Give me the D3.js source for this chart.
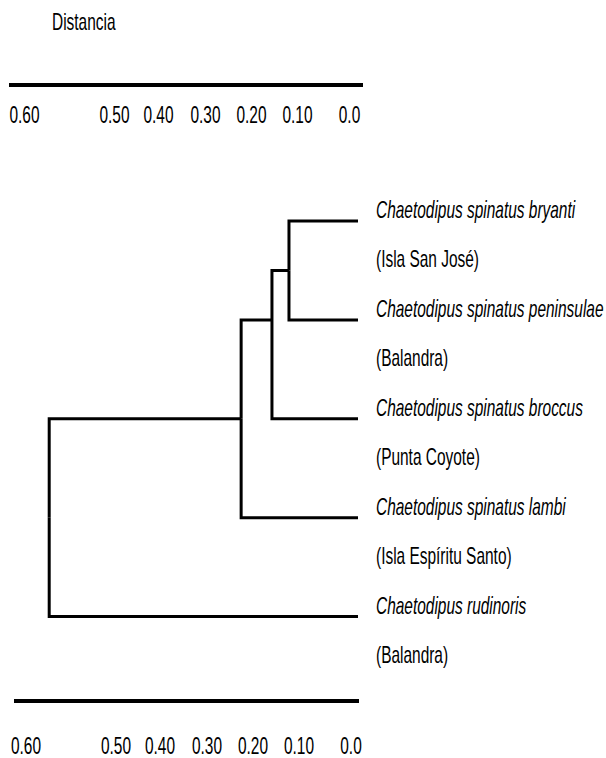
<!DOCTYPE html>
<html><head><meta charset="utf-8">
<script src="https://cdn.jsdelivr.net/npm/d3@7"></script>
<style>body{margin:0;background:#fff}</style>
</head><body><svg id="c" width="606" height="758"></svg>
<script>
const speciesNames = [
  "Chaetodipus spinatus bryanti",
  "Chaetodipus spinatus peninsulae",
  "Chaetodipus spinatus broccus",
  "Chaetodipus spinatus lambi",
  "Chaetodipus rudinoris"
];
const localities = [
  "(Isla San José)",
  "(Balandra)",
  "(Punta Coyote)",
  "(Isla Espíritu Santo)",
  "(Balandra)"
];
// successive merges: merge k joins the cluster so far with leaf k+1
const mergeHeights = [0.137, 0.174, 0.241, 0.582];
const mergeJoin = ["mid", "leaves", "mid", "mid"];
const tickValues = [0.60, 0.50, 0.40, 0.30, 0.20, 0.10, 0.0];
const tickLabels = ["0.60", "0.50", "0.40", "0.30", "0.20", "0.10", "0.0"];
const axisTitle = "Distancia";

const svg = d3.select("#c");
const FONT = "'Liberation Sans', Arial, sans-serif";
const FS = 23, SX = 0.672;

const x = d3.scaleLinear().domain(tickValues).range([33, 123, 167, 214, 260, 306, 358]);
const row = d3.scaleLinear().domain([0, 9]).range([210, 655]);
const leafY = i => row(2 * i) + 11;

function txt(g, tx, ty, s, opts = {}) {
  const t = g.append("text")
    .attr("transform", `translate(${tx},${ty}) scale(${SX},1)`)
    .attr("font-family", FONT).attr("font-size", FS)
    .attr("fill", "#000")
    .attr("text-anchor", opts.anchor || "start")
    .text(s);
  if (opts.italic) t.attr("font-style", "italic");
  return t;
}

// build hierarchy
let tree = {leaf: true, i: 0, h: 0};
mergeHeights.forEach((h, k) => {
  tree = {h, join: mergeJoin[k], children: [tree, {leaf: true, i: k + 1, h: 0}]};
});
const root = d3.hierarchy(tree);
root.eachAfter(d => {
  if (!d.children) d.yy = leafY(d.data.i);
  else if (d.data.join === "leaves") d.yy = d3.mean(d.leaves(), l => l.yy);
  else d.yy = d3.mean(d.children, c => c.yy);
  d.xx = x(d.data.h);
});

svg.append("g").selectAll("path").data(root.links()).join("path")
  .attr("d", l => `M${l.target.xx},${l.target.yy}H${l.source.xx}V${l.source.yy}`)
  .attr("fill", "none").attr("stroke", "#000").attr("stroke-width", 3)
  .attr("stroke-linecap", "butt").attr("stroke-linejoin", "miter");

// labels
const lg = svg.append("g");
speciesNames.forEach((n, i) => {
  txt(lg, 376, row(2 * i) + 8, n, {italic: true});
  txt(lg, 376, row(2 * i + 1) + 8, localities[i]);
});

// axes
txt(svg, 52, 30, axisTitle);
function axisBar(y0, x0, x1, labY, dx) {
  svg.append("line").attr("x1", x0).attr("x2", x1).attr("y1", y0).attr("y2", y0)
    .attr("stroke", "#000").attr("stroke-width", 4);
  tickValues.forEach((v, i) => txt(svg, x(v) + dx, labY, tickLabels[i], {anchor: "middle"}));
}
axisBar(85, 9, 363, 123, -8.5);
axisBar(701, 14, 359, 754, -7);
</script></body></html>
